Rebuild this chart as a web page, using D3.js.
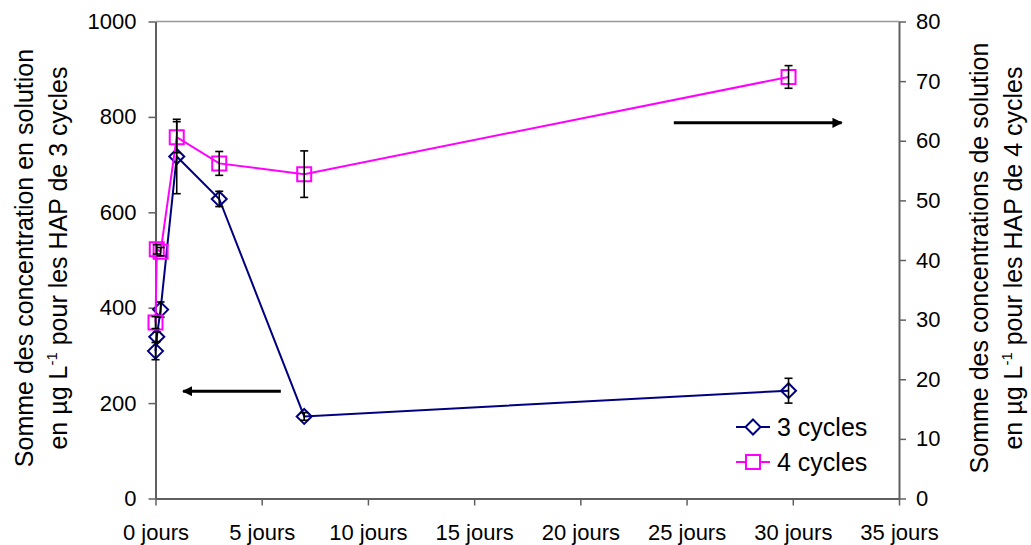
<!DOCTYPE html>
<html>
<head>
<meta charset="utf-8">
<script src="https://cdn.jsdelivr.net/npm/d3@7/dist/d3.min.js"></script>
<style>
  body { margin: 0; background: #fff; }
  text { font-family: "Liberation Sans", Arial, sans-serif; fill: #000; }
</style>
</head>
<body>
<div class="chart"></div>
<script>
// data
var days = [0, 0.06, 0.24, 1, 3, 7, 29.8];
var cycles3 = [309, 339, 396, 717, 628, 172, 226];      // left axis
var cycles3Err = [18, 10, 16, 78, 16, 8, 26];
var cycles4 = [29.5, 41.8, 41.4, 60.6, 56.2, 54.4, 70.7]; // right axis
var cycles4Err = [1, 0.8, 0.7, 2.6, 2, 3.9, 1.9];
var xTicks = [0, 5, 10, 15, 20, 25, 30, 35];
var leftTicks = [0, 200, 400, 600, 800, 1000];
var rightTicks = [0, 10, 20, 30, 40, 50, 60, 70, 80];
var seriesNames = ["3 cycles", "4 cycles"];

var width = 1031, height = 545;
var margin = {top: 21.5, right: 132, bottom: 46.5, left: 155.5};
var plotW = width - margin.left - margin.right,
    plotH = height - margin.top - margin.bottom;

var svg = d3.select(".chart").append("svg")
    .attr("width", width)
    .attr("height", height);

var g = svg.append("g")
    .attr("transform", "translate(" + margin.left + "," + margin.top + ")");

var x = d3.scaleLinear().domain([0, 35]).range([0, plotW]);
var yL = d3.scaleLinear().domain([0, 1000]).range([plotH, 0]);
var yR = d3.scaleLinear().domain([0, 80]).range([plotH, 0]);

var axisColor = "#606060";

// top border of plot area
g.append("line")
    .attr("x1", 0).attr("x2", plotW)
    .attr("y1", 0).attr("y2", 0)
    .attr("stroke", "#999").attr("stroke-width", 1.5);

// axes
var xAxis = g.append("g")
    .attr("transform", "translate(0," + plotH + ")")
    .call(d3.axisBottom(x).tickValues(xTicks).tickSize(7).tickPadding(19).tickSizeOuter(0)
        .tickFormat(function(d) { return d + " jours"; }));

var leftAxis = g.append("g")
    .call(d3.axisLeft(yL).tickValues(leftTicks).tickSize(7).tickPadding(12).tickSizeOuter(0)
        .tickFormat(d3.format("d")));

var rightAxis = g.append("g")
    .attr("transform", "translate(" + plotW + ",0)")
    .call(d3.axisRight(yR).tickValues(rightTicks).tickSize(7).tickPadding(10).tickSizeOuter(0)
        .tickFormat(d3.format("d")));

[xAxis, leftAxis, rightAxis].forEach(function(a) {
  a.select(".domain").attr("stroke", axisColor).attr("stroke-width", 2);
  a.selectAll(".tick line").attr("stroke", axisColor).attr("stroke-width", 1.5);
  a.selectAll(".tick text")
    .style("font-family", "'Liberation Sans', Arial, sans-serif")
    .style("font-size", "22px")
    .attr("fill", "#000");
});

// axis titles (two lines each, rotated)
function axisTitle(cx, cy, line1, line2a, line2b) {
  var t = svg.append("g")
      .attr("transform", "translate(" + cx + "," + cy + ") rotate(-90)");
  t.append("text")
      .attr("text-anchor", "middle")
      .attr("y", 0)
      .style("font-size", "25px")
      .text(line1);
  var t2 = t.append("text")
      .attr("text-anchor", "middle")
      .attr("y", 34)
      .style("font-size", "25px");
  t2.append("tspan").text(line2a);
  t2.append("tspan").attr("dy", -10).style("font-size", "15px").text("-1");
  t2.append("tspan").attr("dy", 10).text(line2b);
}
axisTitle(33, 258, "Somme des concentration en solution", "en µg L", " pour les HAP de 3 cycles");
axisTitle(988, 258, "Somme des concentrations de solution", "en µg L", " pour les HAP de 4 cycles");

// markers
function diamond(s) {
  return "M0," + (-s) + "L" + s + ",0L0," + s + "L" + (-s) + ",0Z";
}
function square(s) {
  return "M" + (-s) + "," + (-s) + "H" + s + "V" + s + "H" + (-s) + "Z";
}

function drawSeries(vals, errs, yScale, color, shape) {
  var pts = days.map(function(d, i) { return {x: d, y: vals[i], e: errs[i]}; });

  var line = d3.line()
      .x(function(d) { return x(d.x); })
      .y(function(d) { return yScale(d.y); });

  g.append("path")
      .datum(pts)
      .attr("d", line)
      .attr("fill", "none")
      .attr("stroke", color)
      .attr("stroke-width", 2);

  g.selectAll(null)
      .data(pts)
      .enter().append("path")
      .attr("transform", function(d) { return "translate(" + x(d.x) + "," + yScale(d.y) + ")"; })
      .attr("d", shape)
      .attr("fill", "none")
      .attr("stroke", color)
      .attr("stroke-width", 2);

  var eb = g.selectAll(null)
      .data(pts)
      .enter().append("g")
      .attr("stroke", "#000")
      .attr("stroke-width", 1.6);
  eb.append("line")
      .attr("x1", function(d) { return x(d.x); })
      .attr("x2", function(d) { return x(d.x); })
      .attr("y1", function(d) { return yScale(d.y - d.e); })
      .attr("y2", function(d) { return yScale(d.y + d.e); });
  [-1, 1].forEach(function(sgn) {
    eb.append("line")
        .attr("x1", function(d) { return x(d.x) - 4; })
        .attr("x2", function(d) { return x(d.x) + 4; })
        .attr("y1", function(d) { return yScale(d.y + sgn * d.e); })
        .attr("y2", function(d) { return yScale(d.y + sgn * d.e); });
  });
}

drawSeries(cycles3, cycles3Err, yL, "#000080", diamond(7.5));
drawSeries(cycles4, cycles4Err, yR, "#FF00FF", square(7));

// arrows pointing to the axis each series uses
svg.append("defs").append("marker")
    .attr("id", "head")
    .attr("viewBox", "0 0 10 10")
    .attr("refX", 9).attr("refY", 5)
    .attr("markerWidth", 3.4).attr("markerHeight", 3.4)
    .attr("orient", "auto")
  .append("path")
    .attr("d", "M0,0L10,5L0,10Z")
    .attr("fill", "#000");

g.append("line")
    .attr("x1", x(24.4)).attr("x2", x(32.3))
    .attr("y1", yR(63)).attr("y2", yR(63))
    .attr("stroke", "#000").attr("stroke-width", 3)
    .attr("marker-end", "url(#head)");

g.append("line")
    .attr("x1", x(5.9)).attr("x2", x(1.3))
    .attr("y1", yL(225)).attr("y2", yL(225))
    .attr("stroke", "#000").attr("stroke-width", 3)
    .attr("marker-end", "url(#head)");

// legend
var legend = svg.append("g").attr("transform", "translate(736,427)");
var legendRows = [
  {name: seriesNames[0], color: "#000080", shape: diamond(7.5)},
  {name: seriesNames[1], color: "#FF00FF", shape: square(7)}
];
legendRows.forEach(function(r, i) {
  var row = legend.append("g").attr("transform", "translate(0," + (i * 35) + ")");
  row.append("line")
      .attr("x1", 0).attr("x2", 34)
      .attr("stroke", r.color).attr("stroke-width", 2);
  row.append("path")
      .attr("transform", "translate(17,0)")
      .attr("d", r.shape)
      .attr("fill", "#fff")
      .attr("stroke", r.color)
      .attr("stroke-width", 2);
  row.append("text")
      .attr("x", 41)
      .attr("dy", "0.35em")
      .style("font-size", "25px")
      .text(r.name);
});
</script>
</body>
</html>
